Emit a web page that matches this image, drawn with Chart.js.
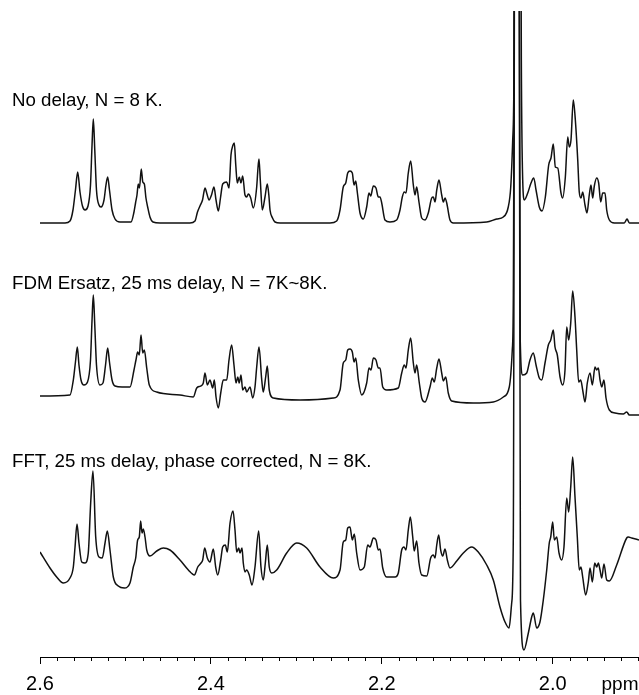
<!DOCTYPE html>
<html><head><meta charset="utf-8">
<script src="https://cdn.jsdelivr.net/npm/chart.js@4.4.1/dist/chart.umd.min.js"></script>
<style>html,body{margin:0;padding:0;background:#fff;}canvas{display:block;}</style>
</head><body>
<canvas id="c" width="639" height="695"></canvas>
<script>
// ---- data (ppm, intensity above each trace's own baseline) ----
const traceLabels = [
  "No delay, N = 8 K.",
  "FDM Ersatz, 25 ms delay, N = 7K~8K.",
  "FFT, 25 ms delay, phase corrected, N = 8K."
];
const majorTicks = [2.6, 2.4, 2.2, 2.0];
const minorStep = 0.02;
const axisUnit = "ppm";
const ppmLeft = 2.6, ppmRight = 1.899;

const trace1 = [[2.6000,0],[2.5707,0],[2.5649,2],[2.5614,13],[2.5585,33],[2.5559,51],[2.5532,31],[2.5503,17],[2.5473,13],[2.5438,17],[2.5409,38],[2.5391,78],[2.5376,104],[2.5359,73],[2.5339,33],[2.5310,18],[2.5286,16],[2.5251,23],[2.5228,38],[2.5208,46],[2.5187,33],[2.5157,13],[2.5122,4],[2.5064,1],[2.4935,1],[2.4900,11],[2.4882,20],[2.4865,28],[2.4850,39],[2.4836,35],[2.4815,54],[2.4797,41],[2.4779,39],[2.4760,25],[2.4740,16],[2.4713,6],[2.4678,1],[2.4596,0],[2.4245,0],[2.4186,2],[2.4157,11],[2.4128,17],[2.4098,23],[2.4069,35],[2.4046,29],[2.4022,23],[2.3993,28],[2.3964,36],[2.3940,23],[2.3913,12],[2.3888,25],[2.3862,39],[2.3815,41],[2.3788,35],[2.3765,68],[2.3741,78],[2.3726,80],[2.3709,58],[2.3691,40],[2.3668,46],[2.3648,40],[2.3628,47],[2.3601,28],[2.3581,26],[2.3562,29],[2.3534,25],[2.3504,15],[2.3464,36],[2.3449,55],[2.3437,64],[2.3422,43],[2.3398,13],[2.3367,26],[2.3340,39],[2.3322,28],[2.3308,13],[2.3279,5],[2.3250,1],[2.3191,0],[2.2606,0],[2.2528,2],[2.2489,13],[2.2451,36],[2.2422,40],[2.2399,50],[2.2372,52],[2.2345,50],[2.2325,38],[2.2305,42],[2.2287,31],[2.2255,10],[2.2216,4],[2.2177,16],[2.2150,30],[2.2130,27],[2.2099,37],[2.2068,35],[2.2041,26],[2.2021,26],[2.2001,20],[2.1963,3],[2.1904,1],[2.1826,3],[2.1787,13],[2.1760,26],[2.1737,31],[2.1717,30],[2.1690,50],[2.1662,62],[2.1631,38],[2.1611,28],[2.1592,36],[2.1565,21],[2.1533,5],[2.1494,3],[2.1456,10],[2.1416,25],[2.1397,26],[2.1377,21],[2.1357,33],[2.1331,43],[2.1299,28],[2.1280,21],[2.1260,25],[2.1240,20],[2.1202,3],[2.1163,0],[2.0772,1],[2.0655,4],[2.0578,6],[2.0520,16],[2.0491,36],[2.0468,83],[2.0453,156],[2.0415,1400],[2.0367,163],[2.0351,43],[2.0332,23],[2.0292,30],[2.0254,40],[2.0222,45],[2.0195,33],[2.0157,16],[2.0125,12],[2.0086,26],[2.0047,58],[2.0020,65],[1.9993,79],[1.9969,56],[1.9941,55],[1.9903,30],[1.9883,25],[1.9852,46],[1.9824,86],[1.9806,76],[1.9786,83],[1.9759,123],[1.9735,103],[1.9707,63],[1.9689,31],[1.9669,25],[1.9649,31],[1.9622,18],[1.9599,10],[1.9572,28],[1.9552,38],[1.9532,25],[1.9513,37],[1.9485,45],[1.9462,40],[1.9438,21],[1.9415,30],[1.9388,30],[1.9368,13],[1.9337,3],[1.9279,0],[1.9162,0],[1.9130,4],[1.9103,0],[1.8990,0]];

const trace2 = [[2.6000,1],[2.5649,2],[2.5610,17],[2.5585,35],[2.5563,50],[2.5544,32],[2.5520,17],[2.5485,12],[2.5444,15],[2.5409,37],[2.5391,77],[2.5376,102],[2.5359,72],[2.5339,32],[2.5298,12],[2.5263,14],[2.5233,32],[2.5208,49],[2.5187,35],[2.5157,17],[2.5122,11],[2.5040,10],[2.4947,10],[2.4900,27],[2.4877,37],[2.4857,45],[2.4838,42],[2.4818,62],[2.4798,44],[2.4779,47],[2.4751,29],[2.4721,12],[2.4634,5],[2.4362,2],[2.4206,0],[2.4166,9],[2.4119,11],[2.4089,14],[2.4069,24],[2.4042,12],[2.4011,17],[2.3979,9],[2.3960,17],[2.3940,0],[2.3913,-11],[2.3885,4],[2.3855,17],[2.3815,17],[2.3788,37],[2.3757,52],[2.3730,32],[2.3706,14],[2.3686,20],[2.3668,14],[2.3648,22],[2.3628,7],[2.3601,10],[2.3581,5],[2.3542,10],[2.3511,-1],[2.3484,10],[2.3464,30],[2.3437,50],[2.3405,17],[2.3387,5],[2.3359,20],[2.3340,31],[2.3317,7],[2.3270,-1],[2.2957,-3],[2.2568,-1],[2.2489,7],[2.2451,34],[2.2422,37],[2.2399,47],[2.2372,48],[2.2345,45],[2.2325,35],[2.2305,39],[2.2275,17],[2.2235,2],[2.2177,14],[2.2150,29],[2.2126,27],[2.2099,39],[2.2068,37],[2.2041,29],[2.2021,29],[2.1989,10],[2.1943,7],[2.1807,9],[2.1767,24],[2.1737,32],[2.1717,29],[2.1690,47],[2.1662,59],[2.1631,34],[2.1611,24],[2.1592,32],[2.1561,14],[2.1533,-1],[2.1494,-5],[2.1436,10],[2.1409,19],[2.1386,15],[2.1357,29],[2.1331,38],[2.1299,24],[2.1280,16],[2.1252,20],[2.1222,4],[2.1182,-4],[2.0929,-6],[2.0695,-5],[2.0578,0],[2.0508,10],[2.0473,47],[2.0461,97],[2.0418,1500],[2.0380,57],[2.0351,22],[2.0304,24],[2.0266,37],[2.0227,44],[2.0195,32],[2.0157,19],[2.0129,17],[2.0090,34],[2.0051,52],[2.0023,57],[1.9993,67],[1.9973,50],[1.9946,42],[1.9914,20],[1.9883,12],[1.9856,27],[1.9836,70],[1.9813,57],[1.9789,74],[1.9766,106],[1.9739,80],[1.9719,47],[1.9696,15],[1.9672,17],[1.9649,7],[1.9622,-5],[1.9595,14],[1.9563,24],[1.9536,12],[1.9505,30],[1.9485,27],[1.9466,29],[1.9446,17],[1.9426,10],[1.9400,17],[1.9376,-1],[1.9337,-13],[1.9271,-16],[1.9174,-17],[1.9134,-15],[1.9103,-18],[1.8990,-18]];

const trace3 = [[2.6000,8],[2.5883,-8],[2.5805,-17],[2.5727,-23],[2.5649,-18],[2.5610,-7],[2.5590,13],[2.5567,36],[2.5544,17],[2.5512,-2],[2.5473,-3],[2.5435,7],[2.5407,57],[2.5380,89],[2.5348,23],[2.5310,3],[2.5271,2],[2.5239,17],[2.5212,29],[2.5181,10],[2.5142,-17],[2.5084,-26],[2.5013,-28],[2.4947,-23],[2.4908,-7],[2.4880,2],[2.4857,20],[2.4838,23],[2.4822,39],[2.4806,27],[2.4791,31],[2.4771,23],[2.4751,10],[2.4713,4],[2.4634,9],[2.4557,12],[2.4479,10],[2.4362,0],[2.4264,-10],[2.4194,-15],[2.4154,-7],[2.4116,-3],[2.4096,0],[2.4073,12],[2.4042,2],[2.4011,-2],[2.3972,11],[2.3944,-7],[2.3920,-15],[2.3885,0],[2.3862,13],[2.3831,15],[2.3808,8],[2.3776,37],[2.3741,49],[2.3718,30],[2.3698,8],[2.3675,12],[2.3659,7],[2.3636,12],[2.3621,-3],[2.3601,-12],[2.3581,-10],[2.3551,-15],[2.3519,-25],[2.3484,-7],[2.3441,29],[2.3414,-7],[2.3387,-20],[2.3363,-3],[2.3340,15],[2.3317,-7],[2.3288,-13],[2.3230,-10],[2.3113,7],[2.2996,17],[2.2879,12],[2.2723,-7],[2.2568,-18],[2.2489,-10],[2.2451,18],[2.2422,20],[2.2399,32],[2.2372,33],[2.2345,20],[2.2322,26],[2.2294,7],[2.2255,-10],[2.2205,-7],[2.2165,15],[2.2138,13],[2.2099,22],[2.2068,20],[2.2041,10],[2.2021,11],[2.1989,-8],[2.1943,-17],[2.1845,-17],[2.1807,-13],[2.1767,10],[2.1740,13],[2.1717,10],[2.1690,30],[2.1666,43],[2.1638,23],[2.1620,9],[2.1592,19],[2.1565,-3],[2.1533,-15],[2.1474,-16],[2.1428,2],[2.1397,5],[2.1377,2],[2.1357,15],[2.1334,25],[2.1311,10],[2.1287,4],[2.1260,11],[2.1233,0],[2.1202,-8],[2.1123,-1],[2.1046,7],[2.0948,13],[2.0871,8],[2.0772,-5],[2.0695,-20],[2.0617,-47],[2.0558,-62],[2.0511,-68],[2.0480,-43],[2.0461,23],[2.0424,1800],[2.0377,-40],[2.0336,-90],[2.0285,-73],[2.0246,-57],[2.0227,-53],[2.0187,-68],[2.0149,-62],[2.0110,-40],[2.0070,-10],[2.0040,17],[2.0023,23],[2.0000,38],[1.9981,20],[1.9953,23],[1.9926,7],[1.9895,0],[1.9868,13],[1.9836,62],[1.9813,48],[1.9789,73],[1.9766,103],[1.9739,63],[1.9712,23],[1.9689,-10],[1.9669,-7],[1.9649,-17],[1.9614,-35],[1.9583,-22],[1.9563,-8],[1.9536,-22],[1.9508,-3],[1.9485,-7],[1.9466,-3],[1.9446,-10],[1.9426,-18],[1.9400,-4],[1.9368,-20],[1.9337,-21],[1.9251,-5],[1.9134,22],[1.9115,23],[1.9075,22],[1.8990,20]];

// ---- layout / style (not data) ----
const traceOffsets = [434, 260, 97];
const labelBaselines = [106, 289, 467];
const FONT = '"Liberation Sans", Arial, Helvetica, sans-serif';
const LINE = '#111';

const traces = [trace1, trace2, trace3];
const datasets = traces.map((t, i) => ({
  label: traceLabels[i],
  data: t.map(([x, v]) => ({x: x, y: traceOffsets[i] + v})),
  borderColor: LINE,
  borderWidth: 1.5,
  pointRadius: 0,
  fill: false,
  cubicInterpolationMode: 'monotone'
}));

const decor = {
  id: 'decor',
  afterDraw(chart) {
    const ctx = chart.ctx, xs = chart.scales.x, ca = chart.chartArea;
    ctx.save();
    ctx.strokeStyle = '#000';
    ctx.lineWidth = 1;
    const n = Math.round((ppmLeft - ppmRight) / minorStep);
    for (let i = 0; i <= n; i++) {
      const v = +(ppmLeft - i * minorStep).toFixed(4);
      if (v < xs.min - 1e-9) break;
      if (majorTicks.some(t => Math.abs(t - v) < 1e-6)) continue;
      const px = Math.round(xs.getPixelForValue(v)) + 0.5;
      ctx.beginPath();
      ctx.moveTo(px, ca.bottom);
      ctx.lineTo(px, ca.bottom + 4);
      ctx.stroke();
    }
    ctx.fillStyle = '#000';
    ctx.font = '18.7px ' + FONT;
    ctx.textAlign = 'left';
    ctx.textBaseline = 'alphabetic';
    traceLabels.forEach((t, i) => ctx.fillText(t, 12, labelBaselines[i]));
    ctx.font = '19px ' + FONT;
    ctx.textAlign = 'center';
    ctx.fillText(axisUnit, 620, 690);
    ctx.restore();
  }
};

new Chart(document.getElementById('c'), {
  type: 'line',
  data: { datasets },
  options: {
    responsive: false,
    animation: false,
    devicePixelRatio: 1,
    layout: { padding: { left: 40, right: 0, top: 11, bottom: -9 } },
    plugins: { legend: { display: false }, tooltip: { enabled: false } },
    scales: {
      x: {
        type: 'linear',
        reverse: true,
        min: ppmRight,
        max: ppmLeft,
        afterBuildTicks: (s) => { s.ticks = majorTicks.map(v => ({ value: v })); },
        ticks: {
          callback: (v) => Number(v).toFixed(1),
          font: { family: FONT, size: 20, lineHeight: '8px' },
          color: '#000',
          padding: 16,
          maxRotation: 0,
          autoSkip: false
        },
        grid: { display: true, drawOnChartArea: false, drawTicks: true, tickLength: 7, color: '#000', tickColor: '#000' },
        border: { display: true, color: '#000', width: 1 }
      },
      y: { display: false, min: 0, max: 646 }
    }
  },
  plugins: [decor]
});
</script>
</body></html>
